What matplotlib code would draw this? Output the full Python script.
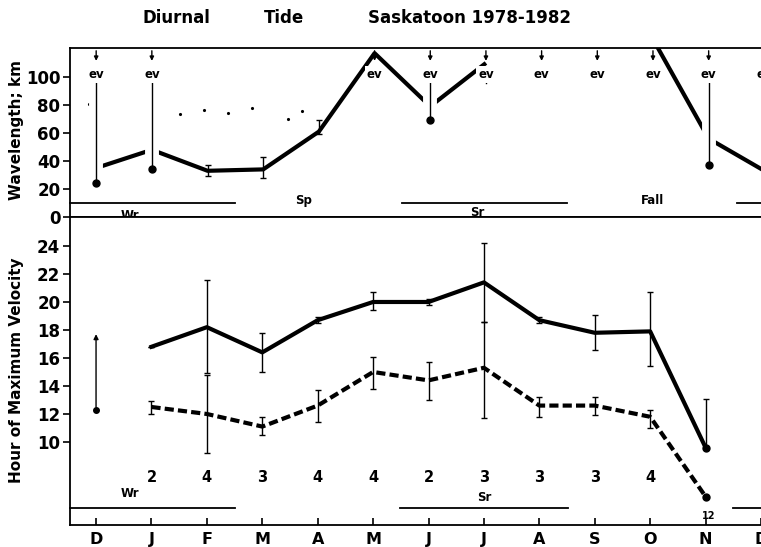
import numpy as np
import matplotlib
matplotlib.use('Agg')
import matplotlib.pyplot as plt
import matplotlib.patheffects as pe

# month axis, D .. D
months = ['D', 'J', 'F', 'M', 'A', 'M', 'J', 'J', 'A', 'S', 'O', 'N', 'D']
xm = np.arange(len(months))

# ---- top panel: wavelength (km), nan = evanescent / no value
wave = [35, 48, 33, 34, 61, 117, 79, 110, np.nan, np.nan, 127, 56, 33]
wave_err_x = [2, 3, 4]
wave_err_lo = [29, 28, 59]
wave_err_hi = [37, 43, 69]

ev_x = [0, 1, 5, 6, 7, 8, 9, 10, 11, 12]      # months marked "ev"
ev_dot_x = [0, 1, 6, 7, 11]                   # ev lines ending in a dot
ev_dot_y = [24, 34, 69, 99, 37]

dots_x = [-0.13, 1.51, 1.94, 2.37, 2.80, 3.45, 3.70]
dots_y = [80.7, 73.6, 76.4, 74.3, 77.9, 70.0, 75.7]

# ---- bottom panel: hour of maximum velocity
upper = [np.nan, 16.8, 18.2, 16.4, 18.7, 20.0, 20.0, 21.4, 18.7, 17.8, 17.9, 9.6, np.nan]
upper_lo = [np.nan, 16.8, 14.9, 15.0, 18.5, 19.4, 19.8, 18.6, 18.5, 16.6, 15.4, 9.6, np.nan]
upper_hi = [np.nan, 16.8, 21.6, 17.8, 18.9, 20.7, 20.2, 24.2, 18.9, 19.1, 20.7, 13.1, np.nan]

lower = [np.nan, 12.5, 12.0, 11.1, 12.6, 15.0, 14.4, 15.3, 12.6, 12.6, 11.8, 6.1, np.nan]
lower_lo = [np.nan, 12.0, 9.2, 10.5, 11.4, 13.8, 13.0, 11.7, 11.8, 11.9, 11.0, 6.1, np.nan]
lower_hi = [np.nan, 12.9, 14.8, 11.8, 13.7, 16.1, 15.7, 18.6, 13.2, 13.2, 12.3, 6.1, np.nan]

counts = ['2', '4', '3', '4', '4', '2', '3', '3', '3', '4']   # J .. O
dec_range = [12.3, 17.9]

# seasons: (label, label x, label y, bar start, bar end)
seasons_top = [('Wr', 0.61, 1.4, -0.47, 2.50), ('Sp', 3.72, 12, None, None),
               ('Sr', 6.84, 3, 5.49, 8.46), ('Fall', 10.0, 12, 11.5, 12.6)]

plt.rcParams['font.family'] = 'DejaVu Sans'
plt.rcParams['font.weight'] = 'bold'

fig = plt.figure(figsize=(7.61, 5.47), dpi=100)
ax1 = fig.add_axes([70/761, (547-217)/547, 691/761, 169/547])
ax2 = fig.add_axes([70/761, (547-525)/547, 691/761, 308/547])

xlim = (-0.47, 11.94)

# ---------------- top panel
ax1.plot(xm, wave, color='black', lw=3, solid_capstyle='butt', zorder=2)
w = np.array(wave)
ex = np.array(wave_err_x)
ax1.errorbar(ex, w[ex], yerr=[w[ex] - np.array(wave_err_lo), np.array(wave_err_hi) - w[ex]],
             fmt='none', ecolor='black', elinewidth=1, capsize=2.5, zorder=3)
# white halo round the ev lines breaks the thick line where it crosses them
white = [pe.Stroke(linewidth=10, foreground='white'), pe.Normal()]
for x in ev_x:
    ax1.text(x, 102, 'ev', ha='center', va='center', fontsize=8.5, zorder=6, clip_on=False,
             bbox=dict(facecolor='white', edgecolor='none', pad=1.5))
    ax1.annotate('', xy=(x, 109.5), xytext=(x, 120.7),
                 arrowprops=dict(arrowstyle='-|>', lw=1, color='black', mutation_scale=6),
                 annotation_clip=False, zorder=7)
for x, y in zip(ev_dot_x, ev_dot_y):
    ax1.plot([x, x], [96, y], color='black', lw=1, zorder=4, path_effects=white)
ax1.plot(ev_dot_x, ev_dot_y, 'o', color='black', ms=5, zorder=5)
ax1.plot(dots_x, dots_y, '.', color='black', ms=2.5)

for lab, lx, ly, b0, b1 in seasons_top:
    ax1.text(lx, ly, lab, ha='center', va='center', fontsize=8.5)
    if b0 is not None:
        ax1.plot([b0, b1], [10, 10], color='black', lw=1.3, clip_on=False)

ax1.set_xlim(xlim)
ax1.set_ylim(0, 120.7)
ax1.set_yticks([0, 20, 40, 60, 80, 100])
ax1.set_xticks([])
ax1.tick_params(axis='y', labelsize=12, length=5, width=1.2, pad=2)
ax1.spines['right'].set_visible(False)
for s in ['left', 'top', 'bottom']:
    ax1.spines[s].set_linewidth(1.3)

# ---------------- bottom panel
u = np.array(upper)
l = np.array(lower)
ax2.plot(xm, u, color='black', lw=3, zorder=2)
ax2.plot(xm, l, color='black', lw=3, ls=(0, (2.2, 1)), zorder=2)
ax2.errorbar(xm, u, yerr=[u - np.array(upper_lo), np.array(upper_hi) - u],
             fmt='none', ecolor='black', elinewidth=1, capsize=2.5, zorder=3)
ax2.errorbar(xm, l, yerr=[l - np.array(lower_lo), np.array(lower_hi) - l],
             fmt='none', ecolor='black', elinewidth=1, capsize=2.5, zorder=3)
ax2.plot([xm[11], xm[11]], [u[11], l[11]], 'o', color='black', ms=5)

# December range arrow
ax2.annotate('', xy=(0, dec_range[1]), xytext=(0, dec_range[0]),
             arrowprops=dict(arrowstyle='-|>', lw=1, color='black', mutation_scale=7))
ax2.plot(0, dec_range[0], 'o', color='black', ms=4)

for x, c in zip(xm[1:11], counts):
    ax2.text(x, 7.43, c, ha='center', va='center', fontsize=10.5)
ax2.text(11.05, 4.7, '12', ha='center', va='center', fontsize=7)

ax2.plot([-0.47, 2.5], [5.25, 5.25], color='black', lw=1.3, clip_on=False)
ax2.plot([5.49, 8.51], [5.25, 5.25], color='black', lw=1.3)
ax2.plot([11.5, 12.6], [5.25, 5.25], color='black', lw=1.3, clip_on=False)
ax2.text(0.61, 6.35, 'Wr', ha='center', va='center', fontsize=8.5)
ax2.text(7.0, 6.0, 'Sr', ha='center', va='center', fontsize=8.5)

ax2.set_xlim(xlim)
ax2.set_ylim(4.07, 26.07)
ax2.set_yticks(range(10, 25, 2))
ax2.set_xticks(xm, months)
ax2.tick_params(axis='y', labelsize=12, length=5, width=1.2, pad=2)
ax2.tick_params(axis='x', direction='in', labelsize=11.5, length=5, width=1.2, pad=5)
ax2.spines['right'].set_visible(False)
for s in ['left', 'top', 'bottom']:
    ax2.spines[s].set_linewidth(1.3)

# axis titles and heading
fig.text(17/761, 1 - 130/547, 'Wavelength; km', rotation=90, ha='center', va='center',
         fontsize=11, fontweight='bold')
fig.text(17/761, 1 - 370/547, 'Hour of Maximum Velocity', rotation=90, ha='center',
         va='center', fontsize=11, fontweight='bold')
fig.text(176/761, 1 - 18/547, 'Diurnal', ha='center', va='center', fontsize=12)
fig.text(284/761, 1 - 18/547, 'Tide', ha='center', va='center', fontsize=12)
fig.text(469/761, 1 - 18/547, 'Saskatoon 1978-1982', ha='center', va='center', fontsize=12)

fig.savefig('out.png', dpi=100)
